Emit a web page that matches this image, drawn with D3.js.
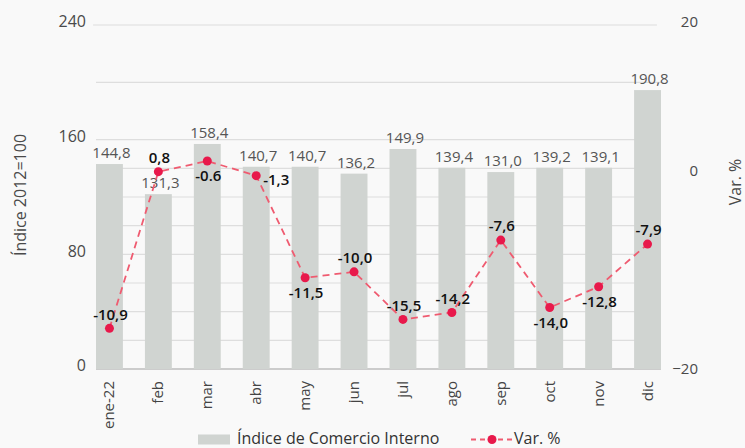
<!DOCTYPE html>
<html>
<head>
<meta charset="utf-8">
<script src="https://cdn.jsdelivr.net/npm/d3@7"></script>
<style>
  body { margin: 0; background: #f9f9f9; }
  svg { display: block; font-family: "Open Sans", sans-serif; }
</style>
</head>
<body>
<div id="chart"></div>
<script>
// data
var months = ["ene-22", "feb", "mar", "abr", "may", "jun", "jul", "ago", "sep", "oct", "nov", "dic"];
var indice = [143.0, 122.0, 157.0, 141.1, 141.1, 136.3, 153.5, 140.4, 137.4, 140.4, 140.4, 194.6];
var indiceLabels = ["144,8", "131,3", "158,4", "140,7", "140,7", "136,2", "149,9", "139,4", "131,0", "139,2", "139,1", "190,8"];
var varPct = [-15.9, -0.1, 1.3, -0.5, -10.8, -10.2, -15.0, -14.3, -7.0, -13.8, -11.7, -7.4];
var varLabels = ["-10,9", "0,8", "-0.6", "-1,3", "-11,5", "-10,0", "-15,5", "-14,2", "-7,6", "-14,0", "-12,8", "-7,9"];
var leftTicks = [0, 80, 160, 240];
var rightTicks = [-20, 0, 20];
var gridVals = [0, 20, 40, 60, 80, 100, 120, 140, 160, 200, 240];

var width = 745, height = 448;

var svg = d3.select("#chart").append("svg")
    .attr("width", width)
    .attr("height", height);

///////// scales

var x = d3.scaleBand()
    .domain(months)
    .range([85, 672])
    .paddingInner(0.45)
    .paddingOuter(0.225);

var y = d3.scaleLinear()
    .domain([0, 240])
    .range([369, 25]);

// the right axis in the original is not evenly spaced
var y2 = d3.scaleLinear()
    .domain([-20, 0, 20])
    .range([369, 170.7, 22]);

var plotLeft = x(months[0]), plotRight = x(months[11]) + x.bandwidth();

///////// grid

svg.append("g")
  .selectAll("line")
  .data(gridVals)
  .enter().append("line")
    .attr("x1", function(d) { return d == 240 ? plotLeft - 3 : plotLeft; })
    .attr("x2", function(d) { return d == 240 ? plotRight - 4 : plotRight; })
    .attr("y1", function(d) { return y(d); })
    .attr("y2", function(d) { return y(d); })
    .attr("stroke", function(d) { return d == 0 ? "#bdbdbd" : "#dedede"; })
    .attr("stroke-width", function(d) { return d == 0 ? 1.5 : 1.2; });

///////// axes

var gY = svg.append("g")
    .attr("transform", "translate(86,0)")
    .call(d3.axisLeft(y).tickValues(leftTicks).tickSize(0).tickPadding(0));
gY.select(".domain").remove();
gY.selectAll("text")
    .attr("dy", "0.12em")
    .attr("fill", "#4a4a4a")
    .style("font-size", "16px")
    .style("font-family", "Open Sans, sans-serif");

var gY2 = svg.append("g")
    .attr("transform", "translate(698,0)")
    .call(d3.axisRight(y2).tickValues(rightTicks).tickSize(0).tickPadding(0));
gY2.select(".domain").remove();
gY2.selectAll("text")
    .attr("text-anchor", "end")
    .attr("fill", "#4a4a4a")
    .style("font-size", "15px")
    .style("font-family", "Open Sans, sans-serif");

var gX = svg.append("g")
    .attr("transform", "translate(0,381)")
    .call(d3.axisBottom(x).tickSize(0).tickPadding(0));
gX.select(".domain").remove();
gX.selectAll("text")
    .attr("transform", "translate(5,0) rotate(-90)")
    .attr("text-anchor", "end")
    .attr("x", 0)
    .attr("y", 0)
    .attr("dy", 0)
    .attr("fill", "#444")
    .style("font-size", "15px")
    .style("font-family", "Open Sans, sans-serif");

svg.append("text")
    .attr("transform", "translate(26,195) rotate(-90)")
    .attr("text-anchor", "middle")
    .attr("fill", "#4a4a4a")
    .style("font-size", "16px")
    .text("Índice 2012=100");

svg.append("text")
    .attr("transform", "translate(741,182) rotate(-90)")
    .attr("text-anchor", "middle")
    .attr("fill", "#4a4a4a")
    .style("font-size", "16px")
    .text("Var. %");

///////// bars

svg.append("g")
  .selectAll("rect")
  .data(indice)
  .enter().append("rect")
    .attr("x", function(d, i) { return x(months[i]); })
    .attr("y", function(d) { return y(d); })
    .attr("width", x.bandwidth())
    .attr("height", function(d) { return y(0) - y(d); })
    .attr("fill", "#d0d4d1");

svg.append("g")
  .selectAll("text")
  .data(indice)
  .enter().append("text")
    .attr("x", function(d, i) { return x(months[i]) + x.bandwidth() / 2 + 2; })
    .attr("y", function(d) { return y(d) - 11; })
    .attr("dy", "0.35em")
    .attr("text-anchor", "middle")
    .attr("fill", "#555")
    .style("font-size", "15px")
    .text(function(d, i) { return indiceLabels[i]; });

///////// line

var cx = function(i) { return x(months[i]) + x.bandwidth() / 2; };

var line = d3.line()
    .x(function(d, i) { return cx(i); })
    .y(function(d) { return y2(d); });

svg.append("path")
    .datum(varPct)
    .attr("fill", "none")
    .attr("stroke", "#ef5b70")
    .attr("stroke-width", 1.8)
    .attr("stroke-dasharray", "7,5")
    .attr("d", line);

svg.append("g")
  .selectAll("circle")
  .data(varPct)
  .enter().append("circle")
    .attr("cx", function(d, i) { return cx(i); })
    .attr("cy", function(d) { return y2(d); })
    .attr("r", 4.5)
    .attr("fill", "#e8194b");

var below = ["mar", "may", "oct", "nov"];

svg.append("g")
  .selectAll("text")
  .data(varPct)
  .enter().append("text")
    .attr("x", function(d, i) { return months[i] == "abr" ? cx(i) + 20 : cx(i) + 1; })
    .attr("y", function(d, i) {
      if (months[i] == "abr") return y2(d) + 4;
      return below.indexOf(months[i]) >= 0 ? y2(d) + 15 : y2(d) - 14;
    })
    .attr("dy", "0.35em")
    .attr("text-anchor", "middle")
    .attr("fill", "#111")
    .style("font-size", "15px")
    .style("font-weight", 600)
    .text(function(d, i) { return varLabels[i]; });

///////// legend

var legend = svg.append("g");

legend.append("rect")
    .attr("x", 198)
    .attr("y", 434.5)
    .attr("width", 32)
    .attr("height", 10)
    .attr("fill", "#d0d4d1");

legend.append("text")
    .attr("x", 237)
    .attr("y", 443.5)
    .attr("fill", "#333")
    .style("font-size", "16px")
    .text("Índice de Comercio Interno");

legend.append("line")
    .attr("x1", 471)
    .attr("x2", 512)
    .attr("y1", 439.5)
    .attr("y2", 439.5)
    .attr("stroke", "#ef5b70")
    .attr("stroke-width", 1.8)
    .attr("stroke-dasharray", "5,4");

legend.append("circle")
    .attr("cx", 492)
    .attr("cy", 439.5)
    .attr("r", 4.5)
    .attr("fill", "#e8194b");

legend.append("text")
    .attr("x", 514)
    .attr("y", 443.5)
    .attr("fill", "#333")
    .style("font-size", "16px")
    .text("Var. %");
</script>
</body>
</html>
